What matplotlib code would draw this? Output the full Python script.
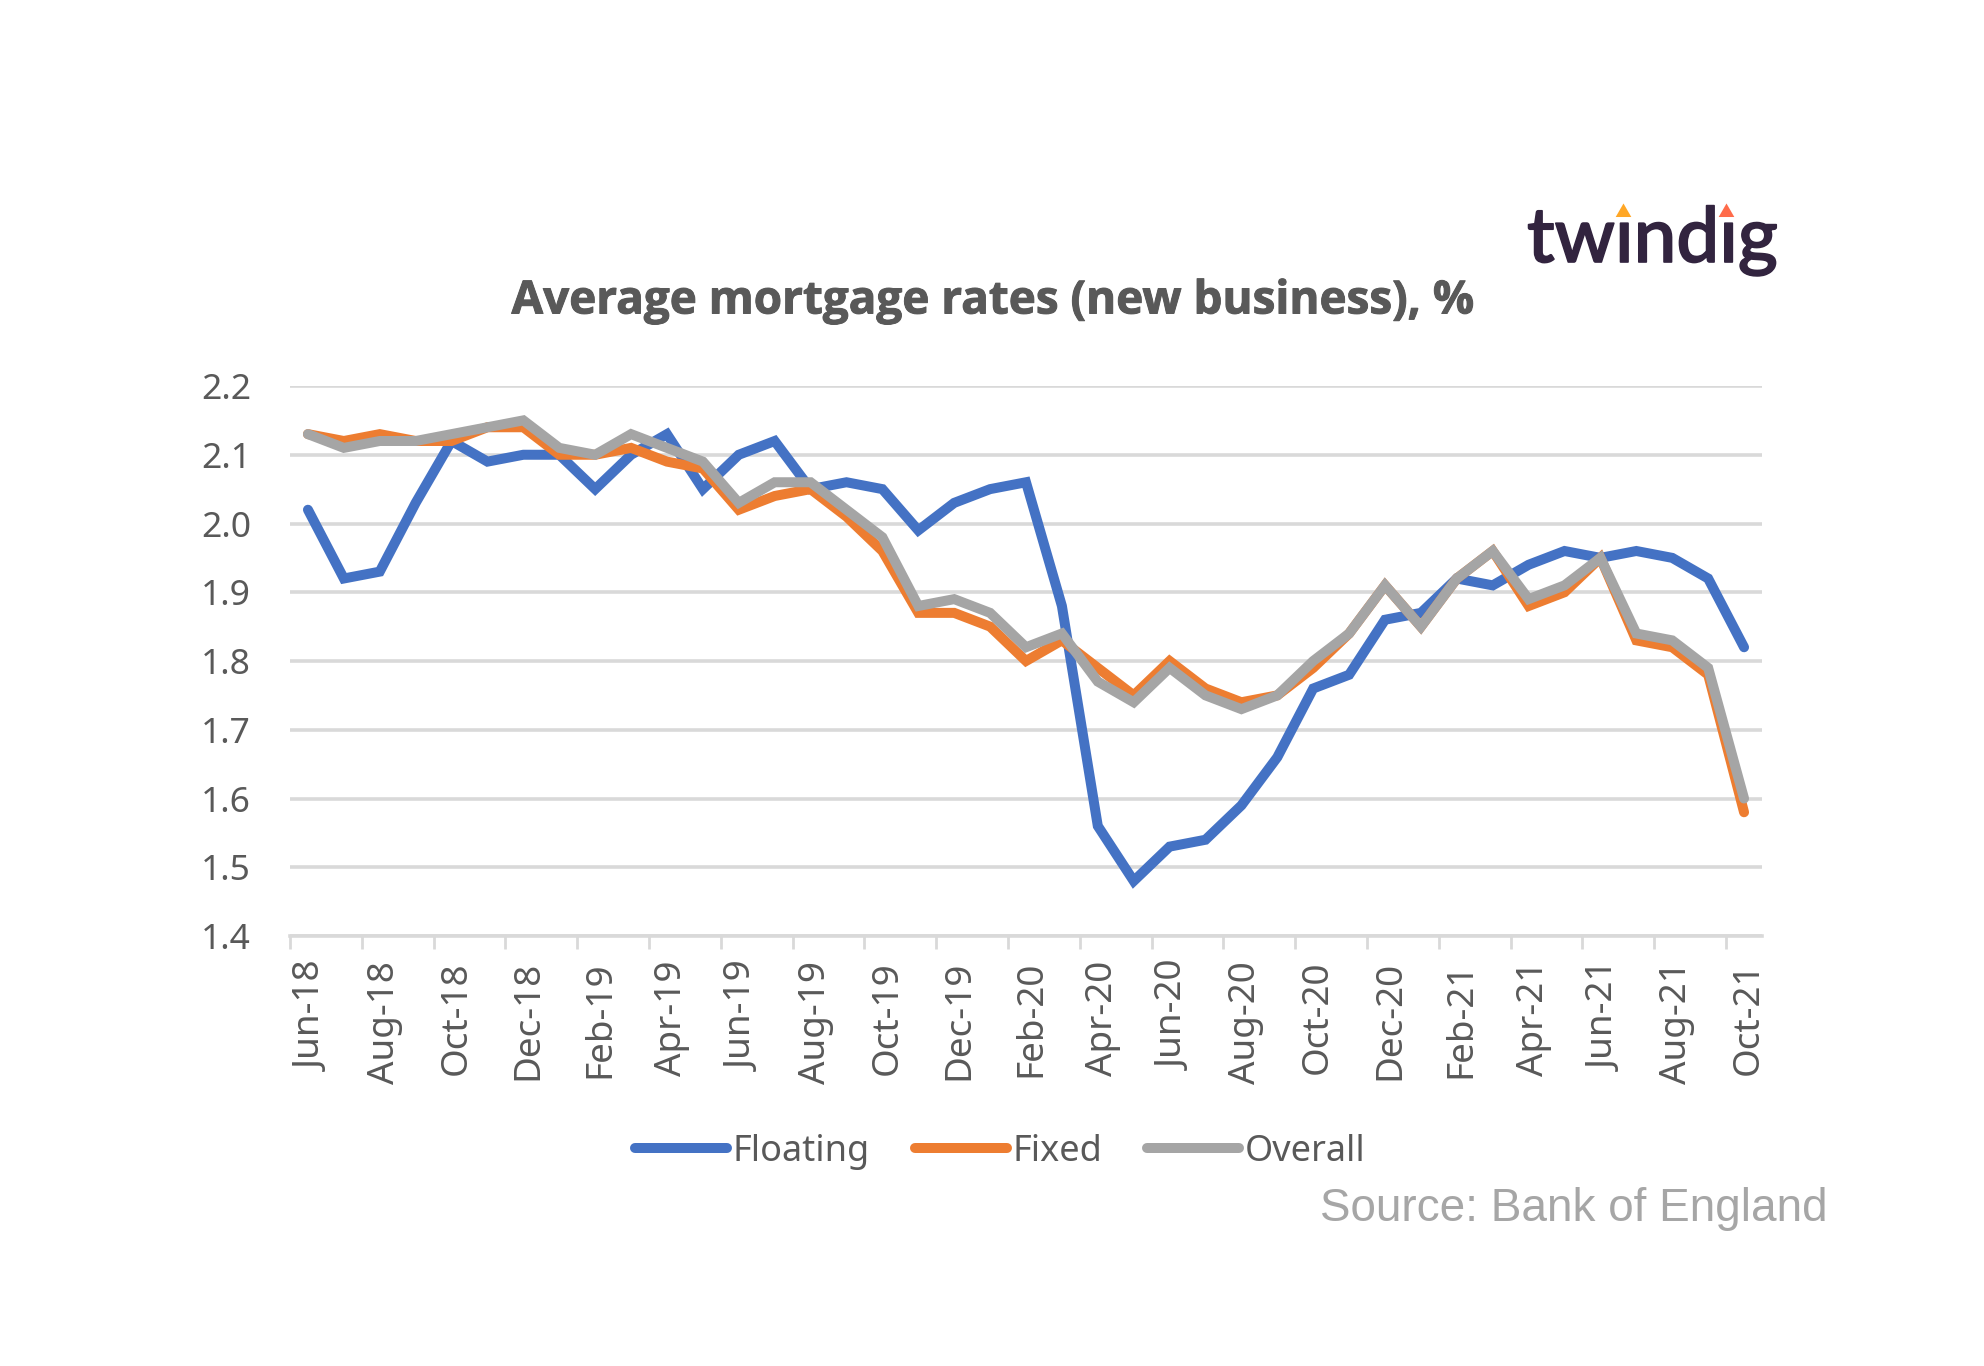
import matplotlib
matplotlib.use("Agg")
import matplotlib.pyplot as plt
import matplotlib.patheffects as pe
from matplotlib.lines import Line2D
from matplotlib.transforms import ScaledTranslation

months = ["Jun-18","Jul-18","Aug-18","Sep-18","Oct-18","Nov-18","Dec-18","Jan-19","Feb-19","Mar-19","Apr-19","May-19",
          "Jun-19","Jul-19","Aug-19","Sep-19","Oct-19","Nov-19","Dec-19","Jan-20","Feb-20","Mar-20","Apr-20","May-20",
          "Jun-20","Jul-20","Aug-20","Sep-20","Oct-20","Nov-20","Dec-20","Jan-21","Feb-21","Mar-21","Apr-21","May-21",
          "Jun-21","Jul-21","Aug-21","Sep-21","Oct-21"]
floating = [2.02,1.92,1.93,2.03,2.12,2.09,2.10,2.10,2.05,2.10,2.13,2.05,2.10,2.12,2.05,2.06,2.05,1.99,2.03,2.05,2.06,
            1.88,1.56,1.48,1.53,1.54,1.59,1.66,1.76,1.78,1.86,1.87,1.92,1.91,1.94,1.96,1.95,1.96,1.95,1.92,1.82]
fixed = [2.13,2.12,2.13,2.12,2.12,2.14,2.14,2.10,2.10,2.11,2.09,2.08,2.02,2.04,2.05,2.01,1.96,1.87,1.87,1.85,1.80,
         1.83,1.79,1.75,1.80,1.76,1.74,1.75,1.79,1.84,1.91,1.85,1.92,1.96,1.88,1.90,1.95,1.83,1.82,1.78,1.58]
overall = [2.13,2.11,2.12,2.12,2.13,2.14,2.15,2.11,2.10,2.13,2.11,2.09,2.03,2.06,2.06,2.02,1.98,1.88,1.89,1.87,1.82,
           1.84,1.77,1.74,1.79,1.75,1.73,1.75,1.80,1.84,1.91,1.85,1.92,1.96,1.89,1.91,1.95,1.84,1.83,1.79,1.60]
yticks = [1.4,1.5,1.6,1.7,1.8,1.9,2.0,2.1,2.2]

W, H = 1984, 1366
fx = lambda x: x / W
fy = lambda y: 1 - y / H
GREY = "#595959"

fig = plt.figure(figsize=(W/100, H/100), dpi=100, facecolor="white")
ax = fig.add_axes([fx(290), fy(936), fx(1762)-fx(290), fy(386)-fy(936)])

xs = list(range(len(months)))
for vals, col, name in [(floating,"#4472c4","Floating"),(fixed,"#ed7d31","Fixed"),(overall,"#a5a5a5","Overall")]:
    ax.plot(xs, vals, color=col, lw=7.2, label=name, solid_capstyle="round", solid_joinstyle="miter", zorder=3)

ax.set_xlim(-0.5, len(months)-0.5)
ax.set_ylim(1.4, 2.2)
ax.set_yticks(yticks)
ax.set_yticklabels([f"{v:.1f}" for v in yticks], fontfamily="Noto Sans", fontsize=25.5, color=GREY)
ax.tick_params(axis="y", length=0, pad=28)
ax.grid(axis="y", color="#d9d9d9", lw=2.6, zorder=0)
ax.set_axisbelow(True)
for s in ["top","right","left"]:
    ax.spines[s].set_visible(False)
ax.spines["bottom"].set_color("#d9d9d9")
ax.spines["bottom"].set_linewidth(2.6)

ax.set_xticks(xs[::2])
ax.set_xticklabels(months[::2], rotation=90, fontfamily="Noto Sans", fontsize=26.5, color=GREY)
ax.tick_params(axis="x", which="major", length=0, pad=18)
shift = ScaledTranslation(5/100, 0, fig.dpi_scale_trans)
for lab in ax.get_xticklabels():
    lab.set_transform(lab.get_transform() + shift)
ax.set_xticks([x-0.5 for x in xs[::2]], minor=True)
ax.tick_params(axis="x", which="minor", length=9.5, width=2, color="#d9d9d9")

fig.text(fx(993), fy(301), "Average mortgage rates (new business), %", ha="center", va="center",
         fontfamily="Open Sans", fontweight="bold", fontsize=33, color=GREY,
         path_effects=[pe.withStroke(linewidth=0.7, foreground=GREY)])

ax.legend(loc="center", bbox_to_anchor=(fx(1000), fy(1152)), bbox_transform=fig.transFigure, ncols=3, frameon=False,
          prop={"family":"Noto Sans","size":26}, labelcolor=GREY, handlelength=2.55, handletextpad=0.15,
          columnspacing=1.25, borderpad=0, borderaxespad=0)

fig.text(fx(1828), fy(1209), "Source: Bank of England", ha="right", va="center",
         fontfamily="Liberation Sans", fontsize=33, color="#a6a6a6")

fig.text(fx(1527), fy(262), "tw\u0131nd\u0131g", ha="left", va="baseline", fontfamily="Lato", fontweight="medium",
         fontsize=55, color="#32243f", path_effects=[pe.withStroke(linewidth=1.2, foreground="#32243f")])
for px, c in [(1623,"#ffa726"),(1726,"#ff6b4a")]:
    fig.add_artist(Line2D([fx(px)],[fy(212)], marker=(3,0,0), ms=9, mew=2, color=c, transform=fig.transFigure, lw=0))

fig.savefig("out.png", dpi=100)
